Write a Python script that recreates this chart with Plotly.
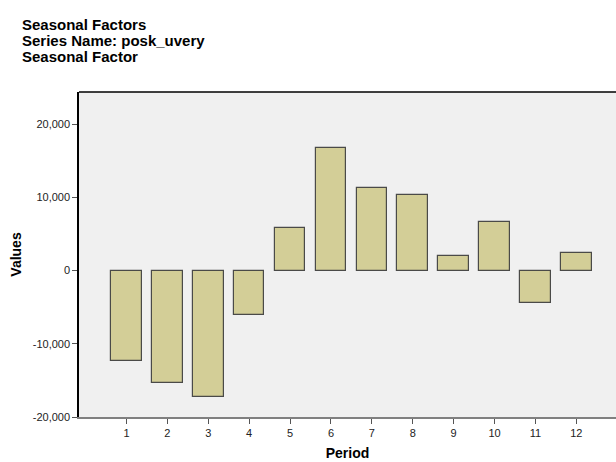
import plotly.graph_objects as go

periods = [1, 2, 3, 4, 5, 6, 7, 8, 9, 10, 11, 12]
seasonal_factor = [-12300, -15380, -17300, -6050, 5880, 16800, 11260, 10340, 1970, 6610, -4370, 2460]
y_tick_vals = [-20000, -10000, 0, 10000, 20000]
y_tick_text = ["-20,000", "-10,000", "0", "10,000", "20,000"]
title_lines = ["Seasonal Factors", "Series Name: posk_uvery", "Seasonal Factor"]

W, H = 616, 462
L, T, R, B = 79, 92, 0, 45
plot_h = H - T - B
plot_w = W - L - R

fig = go.Figure()
fig.add_trace(go.Bar(
    x=periods, y=seasonal_factor, width=0.75,
    marker=dict(color="#D3CE97", line=dict(color="#4A4A48", width=1.2)),
    showlegend=False,
))

font_family = "Liberation Sans, Arial, sans-serif"

annotations = []
for i, line in enumerate(title_lines):
    py = 14 + i * 16
    annotations.append(dict(
        text="<b>%s</b>" % line, xref="paper", yref="paper",
        x=(20 - L) / plot_w, y=(H - B - py) / plot_h,
        xanchor="left", yanchor="top", showarrow=False,
        font=dict(family=font_family, size=15, color="#000000"),
    ))

fig.update_layout(
    width=W, height=H,
    margin=dict(l=L, r=R, t=T, b=B, pad=0),
    paper_bgcolor="#FFFFFF", plot_bgcolor="#F0F0F0",
    font=dict(family=font_family, size=11, color="#222222"),
    annotations=annotations,
    bargap=0,
    shapes=[dict(type="line", xref="paper", yref="paper", x0=0, x1=1, y0=1, y1=1,
                 line=dict(color="#000000", width=1.5))],
)
fig.update_xaxes(
    range=[-0.16, 12.97], tickvals=periods, ticktext=[str(p) for p in periods],
    showgrid=False, zeroline=False, showline=True, linecolor="#808080", linewidth=1.5,
    ticks="outside", ticklen=5, tickcolor="#555555", tickwidth=1,
    tickfont=dict(size=11, color="#222222"),
    title=dict(text="<b>Period</b>", font=dict(size=14, color="#000000"), standoff=10),
)
fig.update_yaxes(
    range=[-20000, 24400], tickvals=y_tick_vals, ticktext=y_tick_text,
    showgrid=False, zeroline=False, showline=True, linecolor="#000000", linewidth=1.5,
    ticks="outside", ticklen=5, tickcolor="#555555", tickwidth=1,
    tickfont=dict(size=11, color="#222222"),
    title=dict(text="<b>Values</b>", font=dict(size=14, color="#000000"), standoff=8),
)

fig.write_html(
    "out.html",
    config={"displayModeBar": False},
    post_script="document.body.style.margin='0';document.body.style.overflow='hidden';",
)
